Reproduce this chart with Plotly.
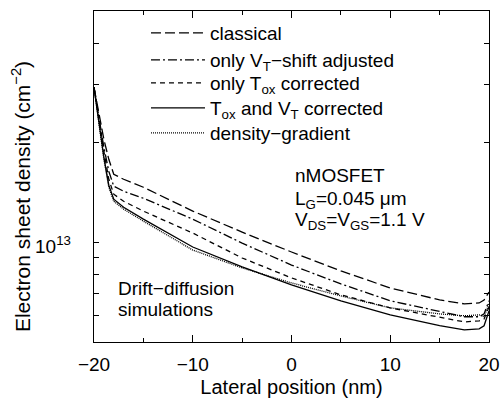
import plotly.graph_objects as go

# Lateral position (nm)
x_nm = [-20, -19.5, -19, -18.5, -18, -17, -15, -10, -5, 0, 5, 10, 15, 17.5, 19, 19.5, 20]

# Electron sheet density (cm^-2)
classical = [2.94e13, 2.435e13, 2.047e13, 1.782e13, 1.606e13, 1.551e13, 1.467e13, 1.243e13, 1.074e13,
             0.935e13, 0.820e13, 0.728e13, 0.670e13, 0.652e13, 0.656e13, 0.670e13, 0.708e13]
vt_shift = [2.94e13, 2.352e13, 1.936e13, 1.640e13, 1.478e13, 1.427e13, 1.359e13, 1.175e13, 0.995e13,
            0.854e13, 0.749e13, 0.666e13, 0.617e13, 0.596e13, 0.596e13, 0.608e13, 0.666e13]
tox_only = [2.94e13, 2.320e13, 1.884e13, 1.551e13, 1.398e13, 1.331e13, 1.243e13, 1.067e13, 0.897e13,
            0.781e13, 0.694e13, 0.634e13, 0.596e13, 0.575e13, 0.579e13, 0.587e13, 0.638e13]
tox_vt = [2.94e13, 2.272e13, 1.807e13, 1.488e13, 1.350e13, 1.277e13, 1.175e13, 0.968e13, 0.843e13,
          0.744e13, 0.666e13, 0.604e13, 0.560e13, 0.544e13, 0.548e13, 0.560e13, 0.621e13]
density_gradient = [2.94e13, 2.256e13, 1.782e13, 1.467e13, 1.331e13, 1.260e13, 1.159e13, 0.948e13, 0.837e13,
                    0.754e13, 0.689e13, 0.634e13, 0.608e13, 0.600e13, 0.604e13, 0.596e13, 0.652e13]

series = [
    ("classical", classical, "10px,4px"),
    ("only V<sub>T</sub>\u2212shift adjusted", vt_shift, "9px,3px,2px,3px"),
    ("only T<sub>ox</sub> corrected", tox_only, "5px,4px"),
    ("T<sub>ox</sub> and V<sub>T</sub> corrected", tox_vt, "solid"),
    ("density\u2212gradient", density_gradient, "1px,1px"),
]

y_tickvals = [6e12, 7e12, 8e12, 9e12, 1e13, 2e13, 3e13, 4e13]

FONT = "Liberation Sans, Arial, sans-serif"

# legend row centres (paper fraction)
legend_rows = [0.9335, 0.852, 0.7825, 0.707, 0.6314]

fig = go.Figure()
layout_legends = {}
for i, (name, vals, dash) in enumerate(series):
    lname = "legend" if i == 0 else f"legend{i + 1}"
    fig.add_trace(go.Scatter(x=x_nm, y=vals, mode="lines", name=name, legend=lname,
                             line=dict(color="black", width=1.3, dash=dash)))
    layout_legends[lname] = dict(x=0.1316, y=legend_rows[i], xanchor="left", yanchor="middle",
                                 bgcolor="rgba(0,0,0,0)", borderwidth=0, itemwidth=54,
                                 font=dict(size=19))

fig.update_layout(
    width=502, height=398,
    margin=dict(l=94, r=13, t=11, b=56, autoexpand=False),
    paper_bgcolor="white", plot_bgcolor="white",
    font=dict(family=FONT, size=19, color="black"),
    showlegend=True,
    **layout_legends,
)

fig.update_xaxes(
    range=[-20, 20], showgrid=False, zeroline=False, automargin=False,
    showline=True, linecolor="black", linewidth=1.3, mirror="ticks",
    ticks="inside", ticklen=7, tickwidth=1.2, tickcolor="black",
    tickvals=[-20, -10, 0, 10, 20], ticktext=["\u221220", "\u221210", "0", "10", "20"],
    minor=dict(tickvals=[-15, -5, 5, 15], ticks="inside", ticklen=4, tickwidth=1.2, tickcolor="black"),
    tickfont=dict(size=19), ticklabelstandoff=5,
    title=dict(text="Lateral position (nm)", font=dict(size=20), standoff=9),
)

fig.update_yaxes(
    type="log", range=[12.69897, 13.69897], showgrid=False, zeroline=False, automargin=False,
    showline=True, linecolor="black", linewidth=1.3, mirror="ticks",
    ticks="inside", ticklen=5, tickwidth=1.2, tickcolor="black",
    tickvals=y_tickvals, showticklabels=False,
)

# y tick label 10^13 (placed on the log axis at 1e13)
fig.add_annotation(text="10<sup>13</sup>", xref="paper", yref="y", x=-0.054, y=13,
                   xanchor="right", yanchor="middle", yshift=-3, showarrow=False,
                   font=dict(size=19))

fig.add_annotation(text="Electron sheet density (cm<sup>\u22122</sup>)", textangle=-90,
                   xref="paper", yref="paper", x=-0.183, y=0.44,
                   xanchor="center", yanchor="middle", showarrow=False, font=dict(size=21))

ann = [
    ("nMOSFET", 0.504, 0.5045, 0),
    ("L<sub>G</sub>=0.045 \u03bcm", 0.504, 0.438, -3),
    ("V<sub>DS</sub>=V<sub>GS</sub>=1.1 V", 0.504, 0.3746, -3),
    ("Drift\u2212diffusion", 0.0557, 0.163, 0),
    ("simulations", 0.0557, 0.0967, 0),
]
for t, ax, ay, ys in ann:
    fig.add_annotation(text=t, xref="paper", yref="paper", x=ax, y=ay, yshift=ys,
                       xanchor="left", yanchor="middle", showarrow=False, font=dict(size=19))

fig.write_html("out.html")
